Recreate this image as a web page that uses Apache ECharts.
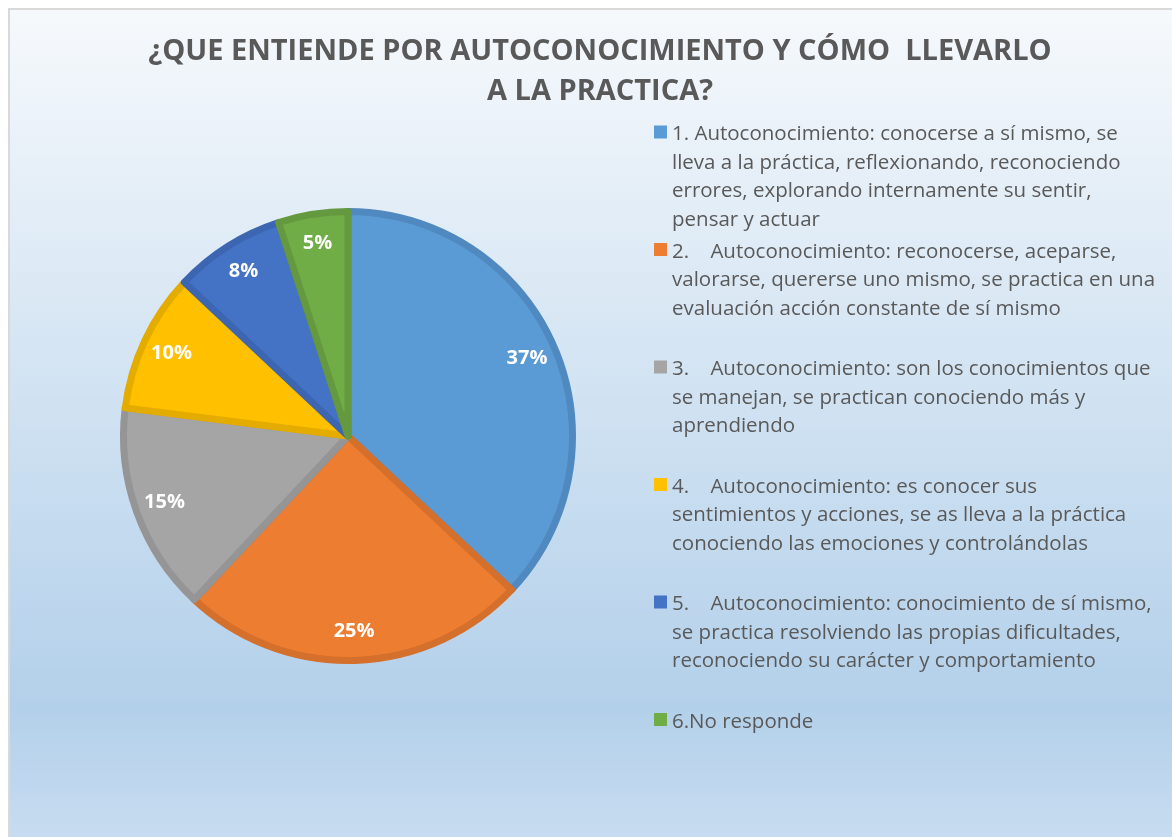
<!DOCTYPE html>
<html>
<head>
<meta charset="utf-8">
<script src="https://cdn.jsdelivr.net/npm/echarts@6/dist/echarts.min.js"></script>
<style>
  html, body { margin: 0; padding: 0; background: #fff; overflow: hidden; }
  #main { width: 1172px; height: 837px; }
</style>
</head>
<body>
<div id="main"></div>
<script>
    var myChart = echarts.init(document.getElementById('main'));

    // textos de la leyenda (una linea por elemento)
    var lineas = [
        ['1. Autoconocimiento: conocerse a sí mismo, se', 'lleva a la práctica, reflexionando, reconociendo', 'errores, explorando internamente su sentir,', 'pensar y actuar'],
        ['2.    Autoconocimiento: reconocerse, aceparse,', 'valorarse, quererse uno mismo, se practica en una', 'evaluación acción constante de sí mismo'],
        ['3.    Autoconocimiento: son los conocimientos que', 'se manejan, se practican conociendo más y', 'aprendiendo'],
        ['4.    Autoconocimiento: es conocer sus', 'sentimientos y acciones, se as lleva a la práctica', 'conociendo las emociones y controlándolas'],
        ['5.    Autoconocimiento: conocimiento de sí mismo,', 'se practica resolviendo las propias dificultades,', 'reconociendo su carácter y comportamiento'],
        ['6.No responde']
    ];

    // porcentajes
    var valores = [37, 25, 15, 10, 8, 5];

    var colores = ['#5b9bd5', '#ed7d31', '#a5a5a5', '#ffc000', '#4472c4', '#70ad47'];
    var bordes = ['#4f89c0', '#d46f2c', '#959595', '#e5ac00', '#3c66b2', '#64993f'];

    var nombres = lineas.map(function (l) { return l.join(' '); });

    var datos = nombres.map(function (n, i) {
        return {
            name: n,
            value: valores[i],
            itemStyle: {color: colores[i], borderColor: bordes[i]}
        };
    });

    var titulo = '¿QUE ENTIENDE POR AUTOCONOCIMIENTO Y CÓMO  LLEVARLO\nA LA PRACTICA?';

    option = {
        graphic: [{
            type: 'rect',
            z: -10,
            shape: {x: 9, y: 9, width: 1200, height: 840},
            style: {
                stroke: '#d9d9d9',
                lineWidth: 2,
                fill: new echarts.graphic.LinearGradient(0, 0, 0, 1, [
                    {offset: 0, color: '#f6f9fc'},
                    {offset: 0.83, color: '#b3d0ea'},
                    {offset: 1, color: '#c9ddf1'}
                ])
            }
        }],
        title: {
            text: titulo,
            left: 595,
            top: 27,
            textAlign: 'center',
            textStyle: {
                fontFamily: 'Open Sans',
                fontWeight: 'bold',
                fontSize: 29,
                lineHeight: 40,
                color: '#595959'
            }
        },
        legend: {
            orient: 'vertical',
            left: 654,
            top: 120,
            padding: 0,
            itemGap: 3.5,
            itemWidth: 13,
            itemHeight: 114,
            icon: 'path://M0,5.5L13,5.5L13,18.5L0,18.5Z M0,0L0,114',
            itemStyle: {borderWidth: 0},
            selectedMode: false,
            formatter: function (name) {
                var l = lineas[nombres.indexOf(name)].slice();
                while (l.length < 4) l.push('');
                return l.join('\n');
            },
            textStyle: {
                fontFamily: 'Open Sans',
                fontSize: 20.5,
                lineHeight: 28.5,
                color: '#595959'
            }
        },
        series: [{
            type: 'pie',
            center: [348, 436],
            radius: [0, 224.5],
            startAngle: 90,
            clockwise: true,
            label: {show: false},
            labelLine: {show: false},
            emphasis: {disabled: true},
            itemStyle: {borderWidth: 7, borderJoin: 'round'},
            data: datos
        }, {
            type: 'pie',
            center: [348, 436],
            radius: [156, 228],
            startAngle: 90,
            clockwise: true,
            silent: true,
            emphasis: {disabled: true},
            itemStyle: {color: 'transparent', borderWidth: 0},
            labelLine: {show: false},
            label: {
                position: 'inside',
                formatter: '{d}%',
                color: '#fff',
                fontFamily: 'Open Sans',
                fontWeight: 'bold',
                fontSize: 20
            },
            data: nombres.map(function (n, i) { return {name: n, value: valores[i]}; })
        }]
    };

    myChart.setOption(option);
</script>
</body>
</html>
